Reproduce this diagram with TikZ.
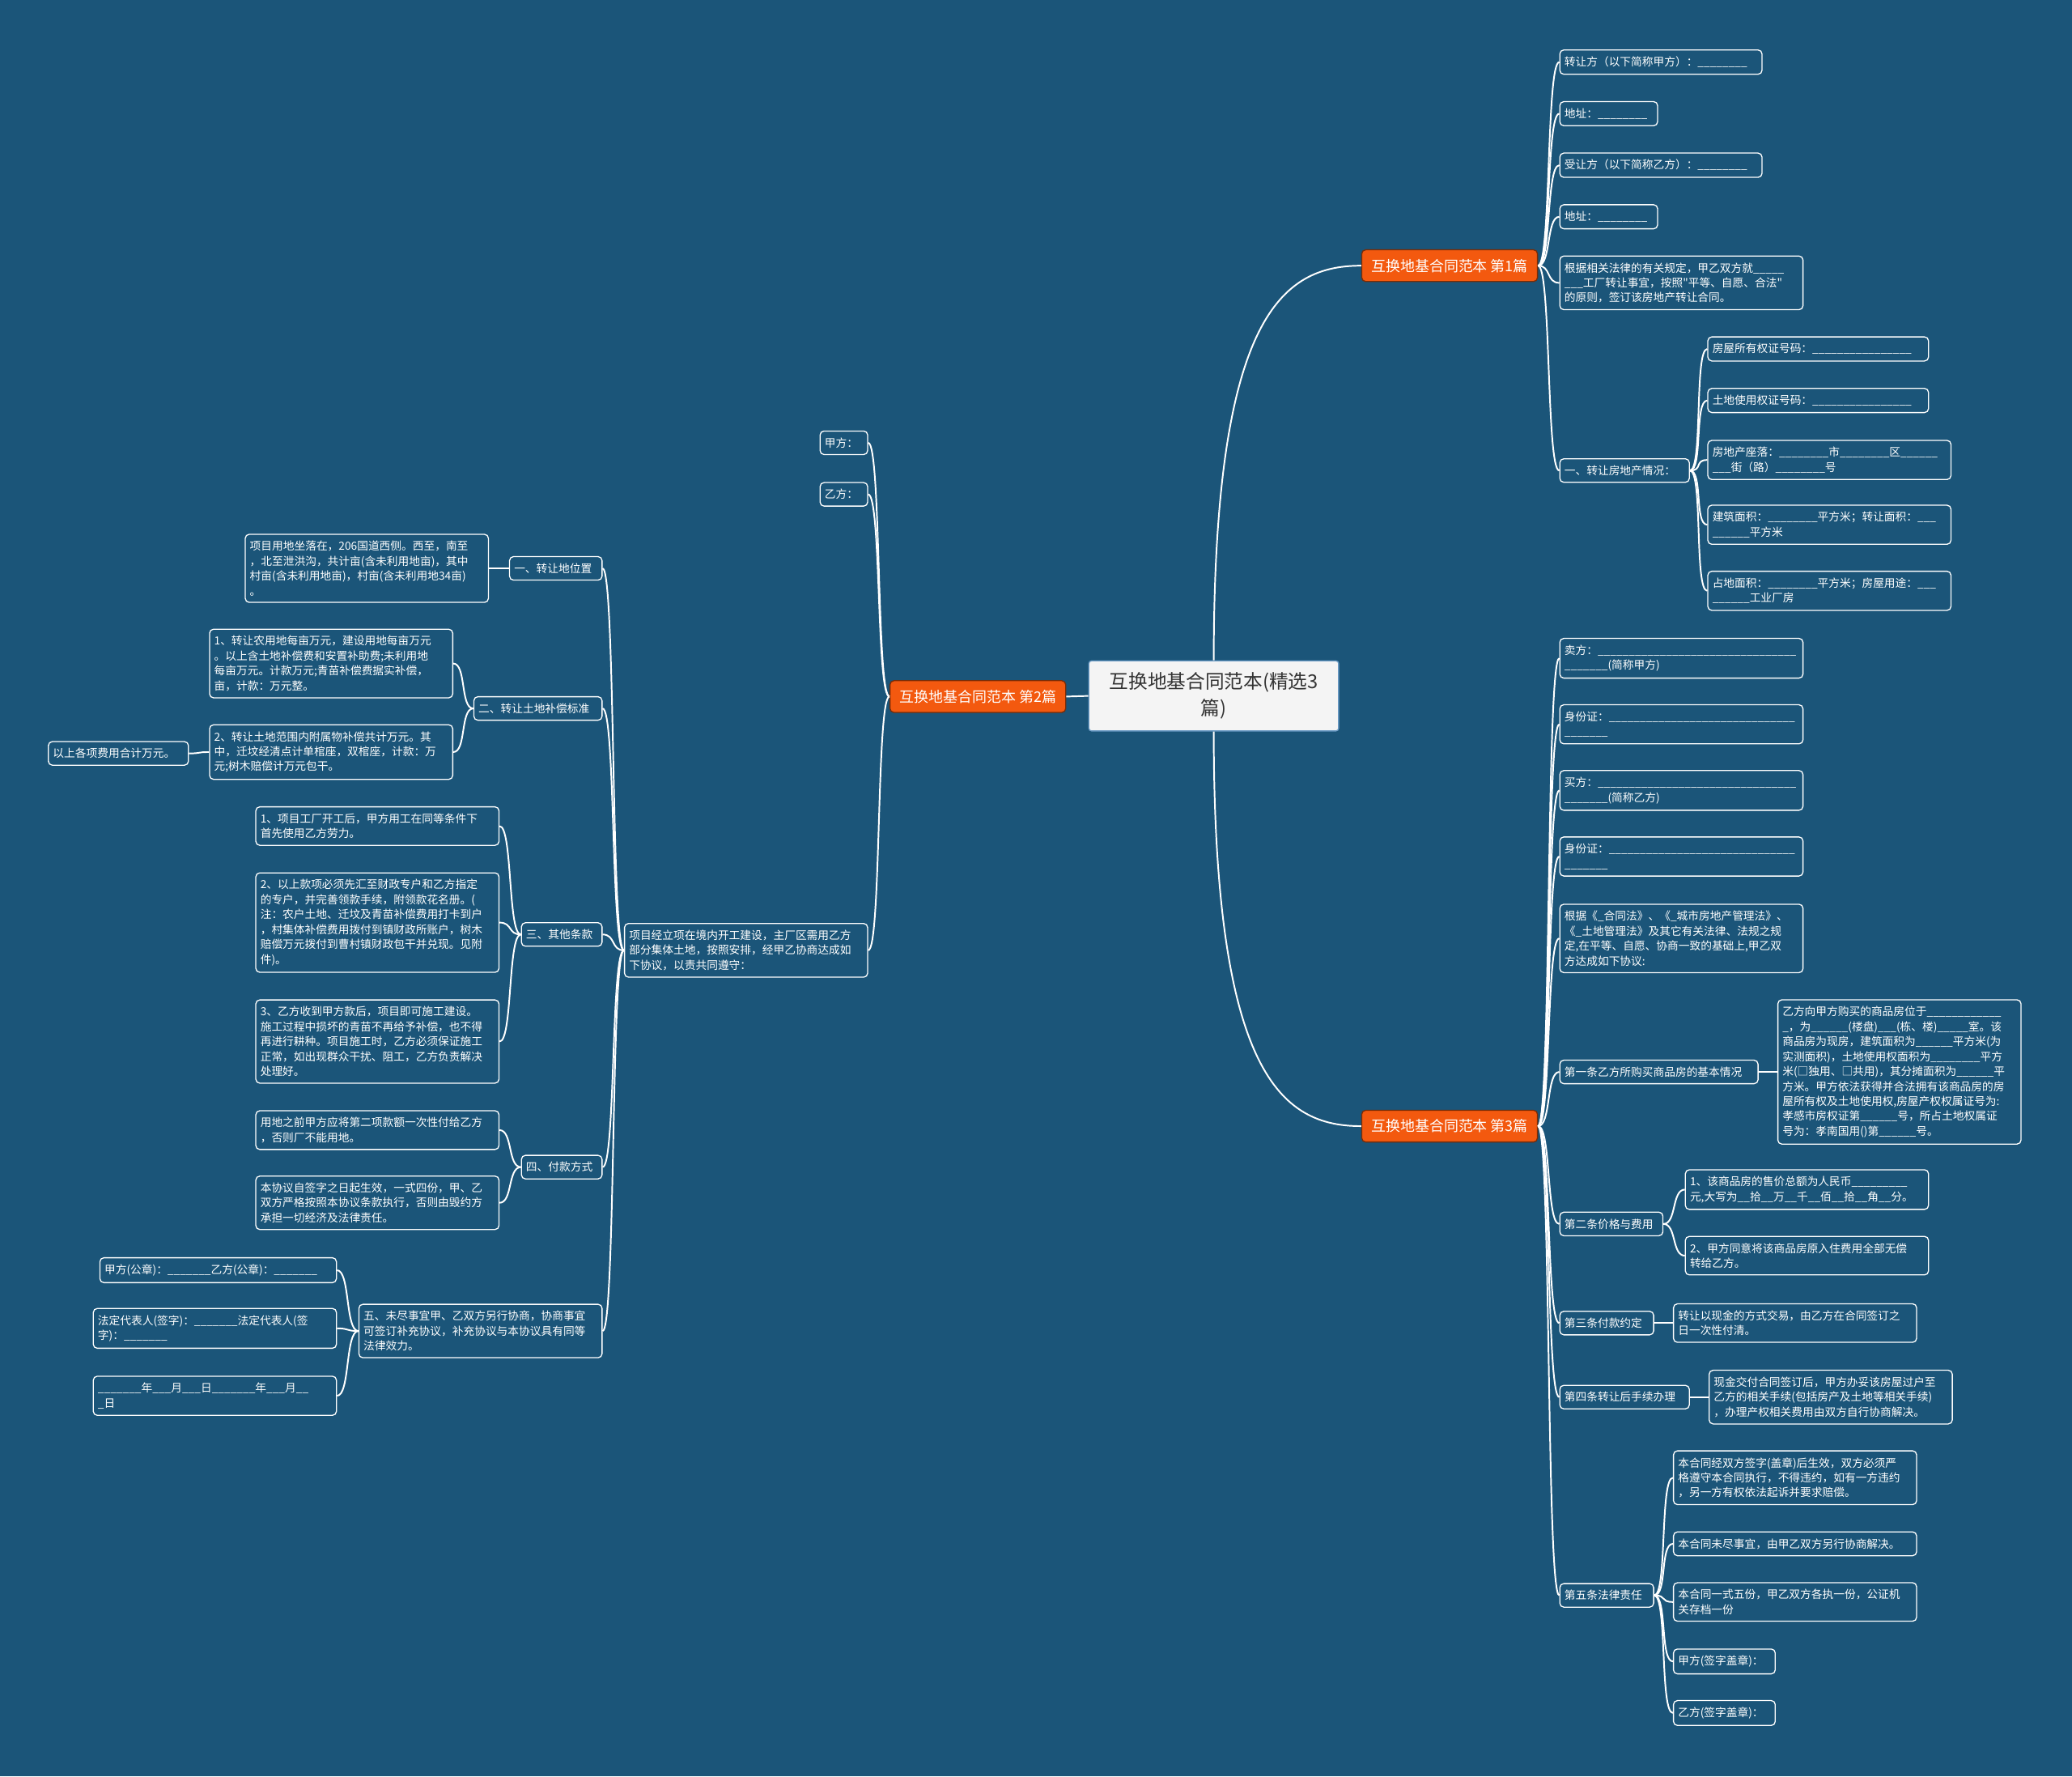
\documentclass[tikz,border=0pt]{standalone}
\usepackage{fontspec}
\setmainfont{Noto Sans CJK SC}
\newfontfamily\cjk{Noto Sans CJK SC}
\usepackage{tikz}
\usetikzlibrary{positioning}
\definecolor{bgblue}{HTML}{1B5579}
\definecolor{topicor}{HTML}{F3590F}
\definecolor{rootfill}{HTML}{F4F4F4}
\definecolor{rootline}{HTML}{6A9AC4}

\begin{document}
\catcode`\_=12
\begin{tikzpicture}[x=1pt,y=-1pt,
  leaf/.style={draw=white,line width=0.8pt,rounded corners=3pt,fill=bgblue,text=white,
    font=\cjk\fontsize{8.4}{11.3}\selectfont,align=left,inner xsep=3.5pt,inner ysep=5pt},
  wide/.style={leaf,text width=177pt},
  topic/.style={draw=topicor!50!black,line width=0.8pt,rounded corners=3pt,fill=topicor,text=white,
    font=\cjk\fontsize{11}{13}\selectfont,minimum width=133pt,minimum height=24pt,inner xsep=4pt},
  link/.style={draw=white,line width=1.2pt},
  rlink/.style={to path={.. controls +(10,0) and +(-10,0) .. (\tikztotarget)}},
  llink/.style={to path={.. controls +(-10,0) and +(10,0) .. (\tikztotarget)}}]
\useasboundingbox (0,0) rectangle (1568,1344);
\fill[bgblue] (0,0) rectangle (1568,1344);

% centre and the three articles
\node[draw=rootline,line width=0.8pt,rounded corners=2pt,fill=rootfill,text=black!80,
  font=\cjk\fontsize{14.5}{20}\selectfont,align=center,minimum width=189pt,minimum height=53pt]
  (root) at (918.5,526.5) {互换地基合同范本(精选3\\篇)};
\node[topic] (art1) at (1097,201) {互换地基合同范本 第1篇};
\node[topic] (art2) at (740,527) {互换地基合同范本 第2篇};
\node[topic] (art3) at (1097,852) {互换地基合同范本 第3篇};

% article 1
\node[leaf,text width=146pt,anchor=west] (a1) at (1180,47) {转让方（以下简称甲方）：________};
\node[leaf,text width=67pt,anchor=west] (a2) at (1180,86) {地址：________};
\node[leaf,text width=146pt,anchor=west] (a3) at (1180,125) {受让方（以下简称乙方）：________};
\node[leaf,text width=67pt,anchor=west] (a4) at (1180,164) {地址：________};
\node[wide,anchor=west] (a5) at (1180,214) {根据相关法律的有关规定，甲乙双方就_____\\___工厂转让事宜，按照"平等、自愿、合法"\\的原则，签订该房地产转让合同。};
\node[leaf,text width=91pt,anchor=west] (a6) at (1180,356) {一、转让房地产情况：};
\node[leaf,text width=160pt,anchor=west] (a61) at (1292,264) {房屋所有权证号码：________________};
\node[leaf,text width=160pt,anchor=west] (a62) at (1292,303) {土地使用权证号码：________________};
\node[wide,anchor=west] (a63) at (1292,348) {房地产座落：________市________区______\\___街（路）________号};
\node[wide,anchor=west] (a64) at (1292,397) {建筑面积：________平方米；转让面积：___\\______平方米};
\node[wide,anchor=west] (a65) at (1292,447) {占地面积：________平方米；房屋用途：___\\______工业厂房};

% article 3
\node[wide,anchor=west] (c1) at (1180,498) {卖方：________________________________\\_______(简称甲方)};
\node[wide,anchor=west] (c2) at (1180,548) {身份证：______________________________\\_______};
\node[wide,anchor=west] (c3) at (1180,598) {买方：________________________________\\_______(简称乙方)};
\node[wide,anchor=west] (c4) at (1180,648) {身份证：______________________________\\_______};
\node[wide,anchor=west] (c5) at (1180,710) {根据《_合同法》、《_城市房地产管理法》、\\《_土地管理法》及其它有关法律、法规之规\\定,在平等、自愿、协商一致的基础上,甲乙双\\方达成如下协议:};
\node[leaf,text width=143pt,anchor=west] (c6) at (1180,811) {第一条乙方所购买商品房的基本情况};
\node[wide,anchor=west] (c61) at (1345,811) {乙方向甲方购买的商品房位于____________\\_，为______(楼盘)___(栋、楼)_____室。该\\商品房为现房，建筑面积为______平方米(为\\实测面积)，土地使用权面积为________平方\\米(□独用、□共用)，其分摊面积为______平\\方米。甲方依法获得并合法拥有该商品房的房\\屋所有权及土地使用权,房屋产权权属证号为:\\孝感市房权证第______号，所占土地权属证\\号为：孝南国用()第______号。};
\node[leaf,text width=71pt,anchor=west] (c7) at (1180,926) {第二条价格与费用};
\node[wide,anchor=west] (c71) at (1275,900) {1、该商品房的售价总额为人民币_________\\元,大写为__拾__万__千__佰__拾__角__分。};
\node[wide,anchor=west] (c72) at (1275,950) {2、甲方同意将该商品房原入住费用全部无偿\\转给乙方。};
\node[leaf,text width=64pt,anchor=west] (c8) at (1180,1001) {第三条付款约定};
\node[wide,anchor=west] (c81) at (1266,1001) {转让以现金的方式交易，由乙方在合同签订之\\日一次性付清。};
\node[leaf,text width=91pt,anchor=west] (c9) at (1180,1057) {第四条转让后手续办理};
\node[wide,anchor=west] (c91) at (1293,1057) {现金交付合同签订后，甲方办妥该房屋过户至\\乙方的相关手续(包括房产及土地等相关手续)\\，办理产权相关费用由双方自行协商解决。};
\node[leaf,text width=64pt,anchor=west] (c10) at (1180,1207) {第五条法律责任};
\node[wide,anchor=west] (c101) at (1266,1118) {本合同经双方签字(盖章)后生效，双方必须严\\格遵守本合同执行，不得违约，如有一方违约\\，另一方有权依法起诉并要求赔偿。};
\node[wide,anchor=west] (c102) at (1266,1168) {本合同未尽事宜，由甲乙双方另行协商解决。};
\node[wide,anchor=west] (c103) at (1266,1212) {本合同一式五份，甲乙双方各执一份，公证机\\关存档一份};
\node[leaf,text width=70pt,anchor=west] (c104) at (1266,1257) {甲方(签字盖章)：};
\node[leaf,text width=70pt,anchor=west] (c105) at (1266,1296) {乙方(签字盖章)：};

% article 2
\node[leaf,text width=29pt,anchor=east] (b1) at (657,335) {甲方：};
\node[leaf,text width=29pt,anchor=east] (b2) at (657,374) {乙方：};
\node[wide,anchor=east] (b3) at (657,719) {项目经立项在境内开工建设，主厂区需用乙方\\部分集体土地，按照安排，经甲乙协商达成如\\下协议，以责共同遵守：};
\node[leaf,text width=63pt,anchor=east] (d1) at (456,430) {一、转让地位置};
\node[wide,anchor=east] (d11) at (370,430) {项目用地坐落在，206国道西侧。西至，南至\\，北至泄洪沟，共计亩(含未利用地亩)，其中\\村亩(含未利用地亩)，村亩(含未利用地34亩)\\。};
\node[leaf,text width=90pt,anchor=east] (d2) at (456,536) {二、转让土地补偿标准};
\node[wide,anchor=east] (d21) at (343,502) {1、转让农用地每亩万元，建设用地每亩万元\\。以上含土地补偿费和安置补助费;未利用地\\每亩万元。计款万元;青苗补偿费据实补偿，\\亩，计款：万元整。};
\node[wide,anchor=east] (d22) at (343,569) {2、转让土地范围内附属物补偿共计万元。其\\中，迁坟经清点计单棺座，双棺座，计款：万\\元;树木赔偿计万元包干。};
\node[leaf,text width=99pt,anchor=east] (d221) at (143,570) {以上各项费用合计万元。};
\node[leaf,text width=54pt,anchor=east] (d3) at (456,707) {三、其他条款};
\node[wide,anchor=east] (d31) at (378,625) {1、项目工厂开工后，甲方用工在同等条件下\\首先使用乙方劳力。};
\node[wide,anchor=east] (d32) at (378,698) {2、以上款项必须先汇至财政专户和乙方指定\\的专户，并完善领款手续，附领款花名册。(\\注：农户土地、迁坟及青苗补偿费用打卡到户\\，村集体补偿费用拨付到镇财政所账户，树木\\赔偿万元拨付到曹村镇财政包干并兑现。见附\\件)。};
\node[wide,anchor=east] (d33) at (378,788) {3、乙方收到甲方款后，项目即可施工建设。\\施工过程中损坏的青苗不再给予补偿，也不得\\再进行耕种。项目施工时，乙方必须保证施工\\正常，如出现群众干扰、阻工，乙方负责解决\\处理好。};
\node[leaf,text width=54pt,anchor=east] (d4) at (456,883) {四、付款方式};
\node[wide,anchor=east] (d41) at (378,855) {用地之前甲方应将第二项款额一次性付给乙方\\，否则厂不能用地。};
\node[wide,anchor=east] (d42) at (378,910) {本协议自签字之日起生效，一式四份，甲、乙\\双方严格按照本协议条款执行，否则由毁约方\\承担一切经济及法律责任。};
\node[wide,anchor=east] (d5) at (456,1007) {五、未尽事宜甲、乙双方另行协商，协商事宜\\可签订补充协议，补充协议与本协议具有同等\\法律效力。};
\node[leaf,text width=172pt,anchor=east] (d51) at (255,961) {甲方(公章)：_______乙方(公章)：_______};
\node[wide,anchor=east] (d52) at (255,1005) {法定代表人(签字)：_______法定代表人(签\\字)：_______};
\node[wide,anchor=east] (d53) at (255,1056) {_______年___月___日_______年___月__\\_日};

% connectors
\draw[link] (root.north) .. controls +(0,-260) and +(-60,0) .. (art1.west);
\draw[link] (root.south) .. controls +(0,260) and +(-60,0) .. (art3.west);
\draw[link] (root.west) -- (art2.east);
\foreach \c in {a1,a2,a3,a4,a5,a6}
  \draw[link,rlink] (art1.east) to (\c.west);
\foreach \c in {a61,a62,a63,a64,a65}
  \draw[link,rlink] (a6.east) to (\c.west);
\foreach \c in {c1,c2,c3,c4,c5,c6,c7,c8,c9,c10}
  \draw[link,rlink] (art3.east) to (\c.west);
\draw[link,rlink] (c6.east) to (c61.west);
\draw[link,rlink] (c7.east) to (c71.west);
\draw[link,rlink] (c7.east) to (c72.west);
\draw[link,rlink] (c8.east) to (c81.west);
\draw[link,rlink] (c9.east) to (c91.west);
\foreach \c in {c101,c102,c103,c104,c105}
  \draw[link,rlink] (c10.east) to (\c.west);
\foreach \c in {b1,b2,b3}
  \draw[link,llink] (art2.west) to (\c.east);
\foreach \c in {d1,d2,d3,d4,d5}
  \draw[link,llink] (b3.west) to (\c.east);
\draw[link,llink] (d1.west) to (d11.east);
\draw[link,llink] (d2.west) to (d21.east);
\draw[link,llink] (d2.west) to (d22.east);
\draw[link,llink] (d22.west) to (d221.east);
\foreach \c in {d31,d32,d33}
  \draw[link,llink] (d3.west) to (\c.east);
\draw[link,llink] (d4.west) to (d41.east);
\draw[link,llink] (d4.west) to (d42.east);
\foreach \c in {d51,d52,d53}
  \draw[link,llink] (d5.west) to (\c.east);
\end{tikzpicture}
\end{document}
